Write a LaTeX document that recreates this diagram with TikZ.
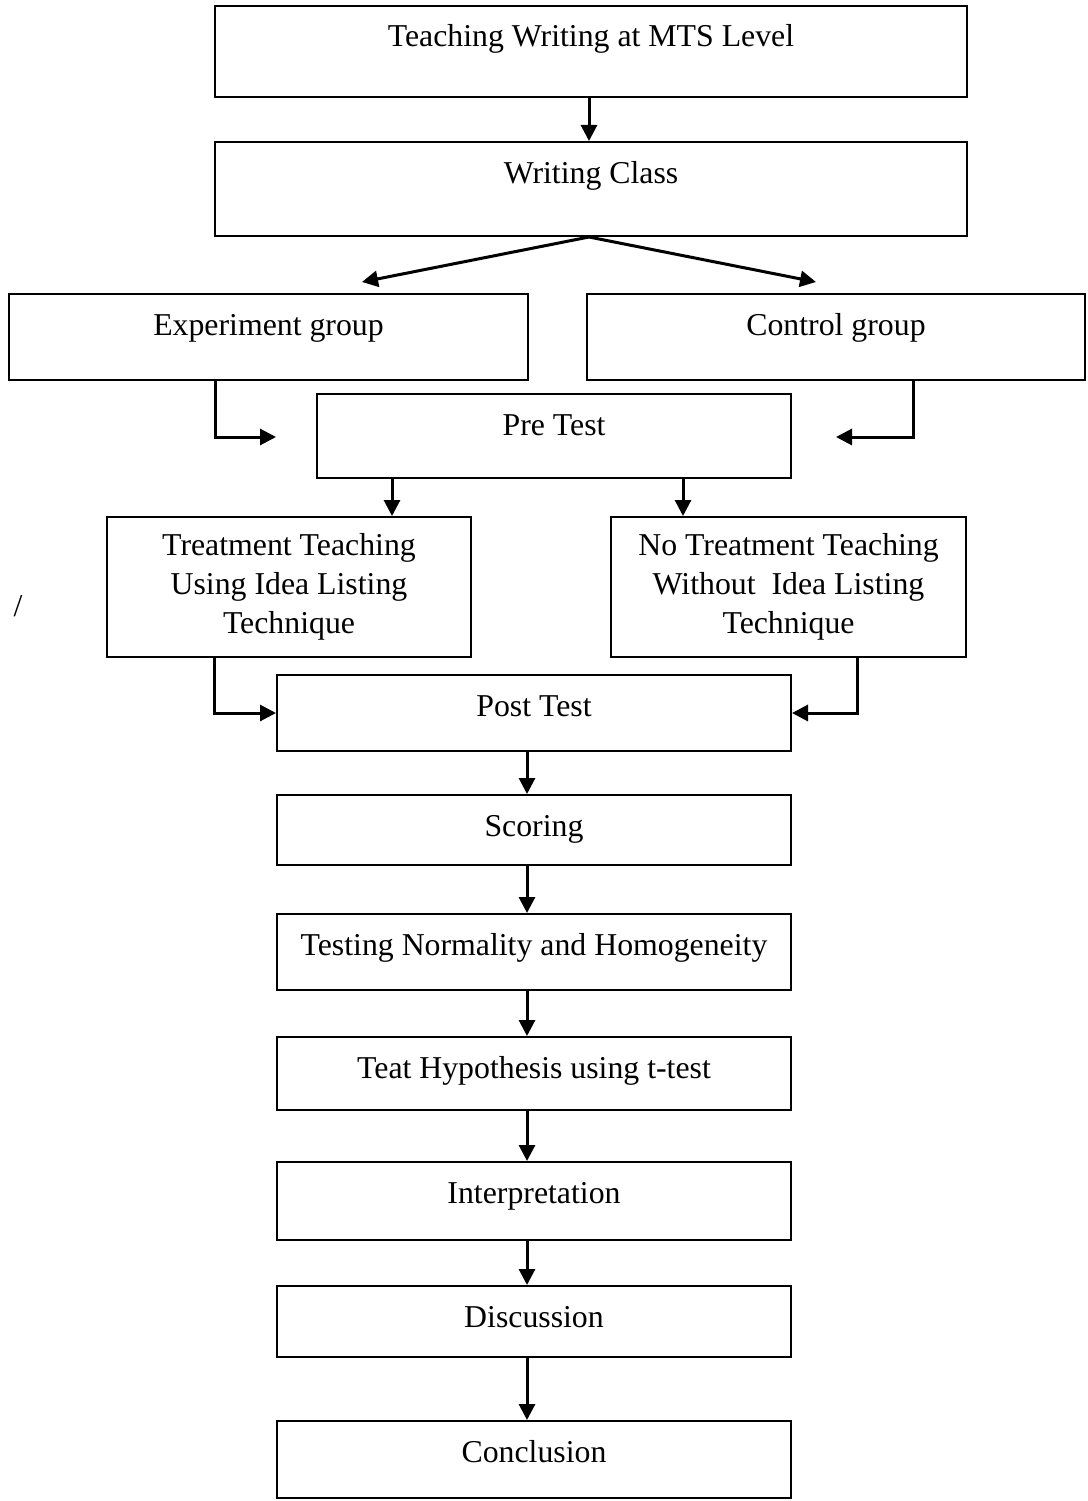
\documentclass[tikz,border=0pt]{standalone}
\usepackage{fontspec}
\setmainfont{Liberation Serif}
\usetikzlibrary{arrows.meta}

\tikzset{
  box/.style={draw,line width=2pt,anchor=north west,inner sep=0pt,text height=41pt},
  tallbox/.style={draw,line width=2pt,inner sep=0pt,align=center,minimum height=140pt},
  flow/.style={line width=3pt,-{Triangle[length=16pt,width=16pt]}}
}

\begin{document}
\begin{tikzpicture}[x=1pt,y=-1pt,every node/.style={font=\fontsize{31.8}{39}\selectfont}]
\useasboundingbox (0,0) rectangle (1087,1501);
\node[box,minimum width=752pt,text depth=50pt] (teach) at (214,5) {Teaching Writing at MTS Level};
\node[box,minimum width=752pt,text depth=53pt] (class) at (214,141) {Writing Class};
\node[box,minimum width=519pt,text depth=45pt] (exper) at (8,293) {Experiment group};
\node[box,minimum width=498pt,text depth=45pt] (ctrl) at (586,293) {Control group};
\node[box,minimum width=474pt,text depth=43pt] (pre) at (316,393) {Pre Test};
\node[tallbox,minimum width=364pt] (treat) at (289,587) {Treatment Teaching\\Using Idea Listing\\Technique};
\node[tallbox,minimum width=355pt] (notreat) at (788.5,587) {No Treatment Teaching\\Without\ \ Idea Listing\\Technique};
\node (slash) at (18,606) {/};
\node[box,minimum width=514pt,text depth=35pt] (post) at (276,674) {Post Test};
\node[box,minimum width=514pt,text depth=29pt] (score) at (276,794) {Scoring};
\node[box,minimum width=514pt,text depth=35pt] (norm) at (276,913) {Testing Normality and Homogeneity};
\node[box,minimum width=514pt,text depth=32pt] (hypo) at (276,1036) {Teat Hypothesis using t-test};
\node[box,minimum width=514pt,text depth=37pt] (interp) at (276,1161) {Interpretation};
\node[box,minimum width=514pt,text depth=30pt] (disc) at (276,1285) {Discussion};
\node[box,minimum width=514pt,text depth=36pt] (concl) at (276,1420) {Conclusion};
% free ends of the split arrows
\coordinate (fork-l) at (362,282);
\coordinate (fork-r) at (816,282);
\coordinate (exp-in) at (276,437);
\coordinate (ctrl-in) at (836,437);

\draw[flow] ([xshift=-2pt]teach.south) -- ([xshift=-2pt]class.north);
\draw[flow] ([xshift=-2pt]class.south) -- (fork-l);
\draw[flow] ([xshift=-2pt]class.south) -- (fork-r);
\draw[flow] ([xshift=-53.5pt]exper.south) |- (exp-in);
\draw[flow] ([xshift=77pt]ctrl.south) |- (ctrl-in);
\draw[flow] ([xshift=-162pt]pre.south) coordinate (p1) -- (p1 |- treat.north);
\draw[flow] ([xshift=129pt]pre.south) coordinate (p2) -- (p2 |- notreat.north);
\draw[flow] ([xshift=-75pt]treat.south) |- (post.west);
\draw[flow] ([xshift=68.5pt]notreat.south) |- (post.east);
\foreach \a/\b in {post/score,score/norm,norm/hypo,hypo/interp,interp/disc,disc/concl}
  \draw[flow] ([xshift=-7pt]\a.south) -- ([xshift=-7pt]\b.north);
\end{tikzpicture}
\end{document}
